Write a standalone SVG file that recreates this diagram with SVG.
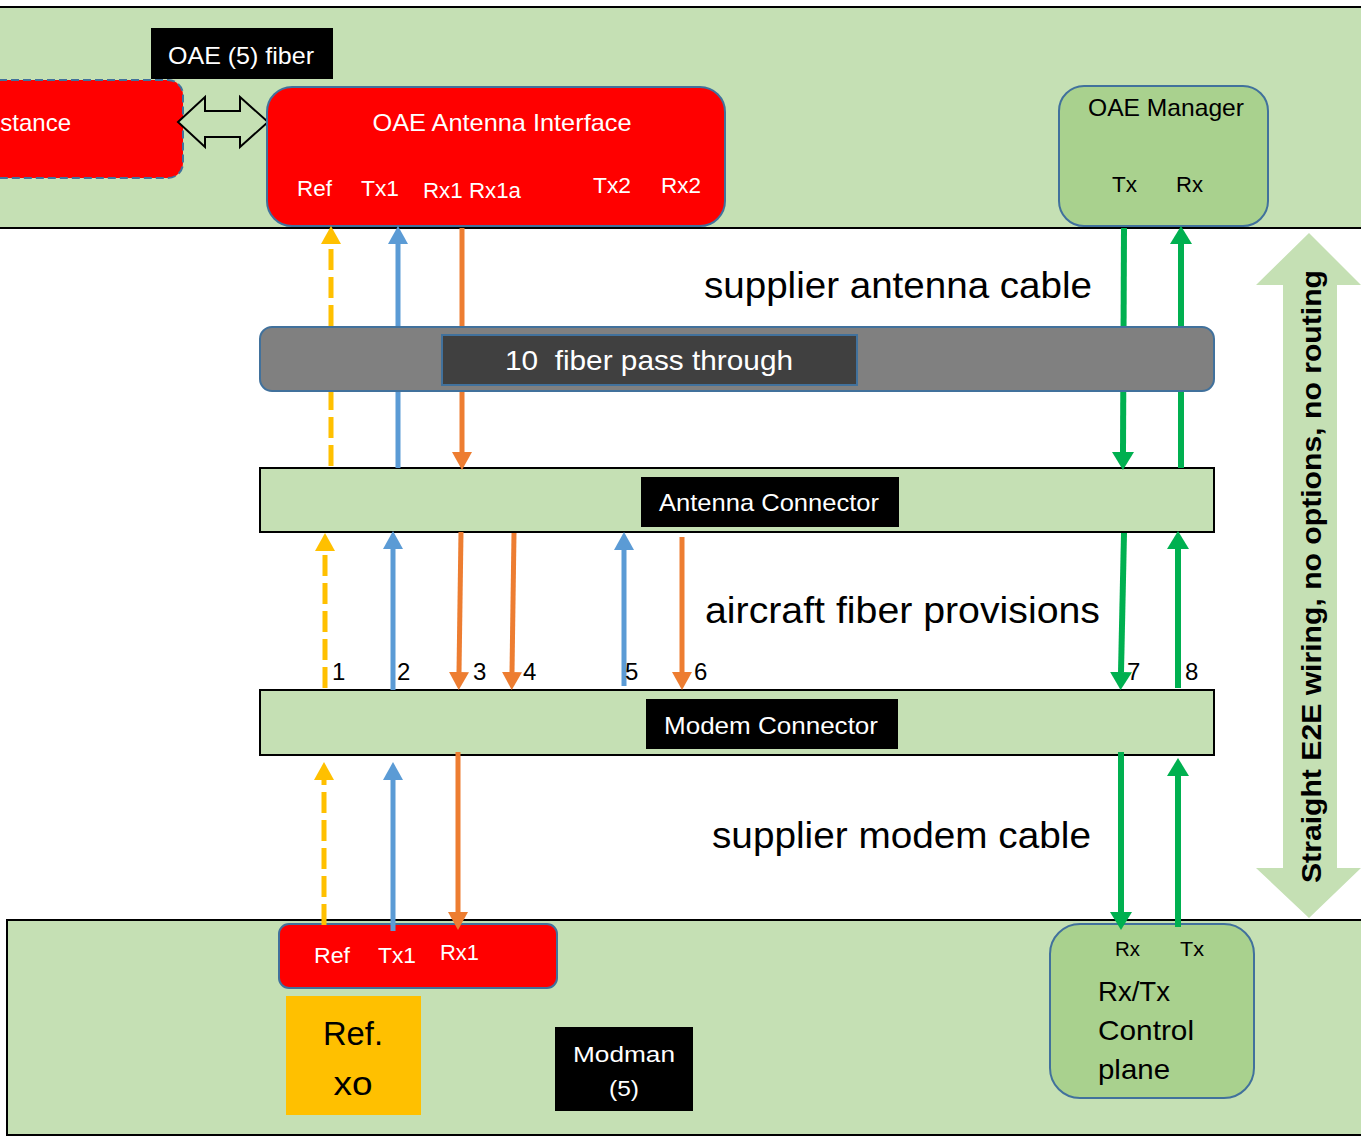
<svg xmlns="http://www.w3.org/2000/svg" width="1361" height="1136" viewBox="0 0 1361 1136">
<style>
text{font-family:"Liberation Sans","DejaVu Sans",sans-serif}
.w{fill:#fff}
.k{fill:#000}
.band{fill:#C5E0B4;stroke:#000;stroke-width:2}
.red{fill:#FF0000;stroke:#41719C;stroke-width:2}
.gn{fill:#A9D18E;stroke:#41719C;stroke-width:2}
.c{fill:none;stroke-width:5}
.y{stroke:#FFC000;stroke-dasharray:21 7}
.b{stroke:#5B9BD5}
.o{stroke:#ED7D31}
.g{stroke:#00B050;stroke-width:6}
</style>
<defs>
<marker id="ay" markerUnits="userSpaceOnUse" markerWidth="18" markerHeight="20" refX="0" refY="10" orient="auto"><path d="M0,0L18,10L0,20z" fill="#FFC000"/></marker>
<marker id="ab" markerUnits="userSpaceOnUse" markerWidth="18" markerHeight="20" refX="0" refY="10" orient="auto"><path d="M0,0L18,10L0,20z" fill="#5B9BD5"/></marker>
<marker id="ao" markerUnits="userSpaceOnUse" markerWidth="18" markerHeight="20" refX="0" refY="10" orient="auto"><path d="M0,0L18,10L0,20z" fill="#ED7D31"/></marker>
<marker id="ag" markerUnits="userSpaceOnUse" markerWidth="18" markerHeight="22" refX="0" refY="11" orient="auto"><path d="M0,0L18,11L0,22z" fill="#00B050"/></marker>
</defs>
<rect width="1361" height="1136" fill="#fff"/>
<g id="top-band"><rect class="band" x="-5" y="7" width="1380" height="221"/></g>
<g id="bottom-band"><rect class="band" x="7" y="920" width="1370" height="215"/></g>

<g id="distance-node">
<rect x="-40" y="80" width="223" height="98" rx="15" fill="#FF0000" stroke="#41719C" stroke-width="2" stroke-dasharray="8 4"/>
<text class="w" x="71" y="131" font-size="24" text-anchor="end">stance</text>
</g>
<g id="oae-fiber-label">
<rect x="151" y="28" width="182" height="51" fill="#000"/>
<text class="w" x="168" y="64" font-size="24" textLength="146" lengthAdjust="spacingAndGlyphs">OAE (5) fiber</text>
</g>
<g id="fiber-double-arrow">
<polygon points="178,122 205,97 205,111 240,111 240,97 268,122 240,147 240,137 205,137 205,147" fill="#C5E0B4" stroke="#000" stroke-width="2"/>
</g>
<g id="oae-antenna-interface">
<rect class="red" x="267" y="87" width="458" height="139" rx="25"/>
<text class="w" x="502" y="131" font-size="24" text-anchor="middle" textLength="259" lengthAdjust="spacingAndGlyphs">OAE Antenna Interface</text>
<text class="w" x="297" y="196" font-size="22" textLength="35" lengthAdjust="spacingAndGlyphs">Ref</text>
<text class="w" x="361" y="196" font-size="22" textLength="38" lengthAdjust="spacingAndGlyphs">Tx1</text>
<text class="w" x="423" y="198" font-size="22" textLength="98" lengthAdjust="spacingAndGlyphs">Rx1 Rx1a</text>
<text class="w" x="593" y="193" font-size="22" textLength="38" lengthAdjust="spacingAndGlyphs">Tx2</text>
<text class="w" x="661" y="193" font-size="22" textLength="40" lengthAdjust="spacingAndGlyphs">Rx2</text>
</g>
<g id="oae-manager">
<rect class="gn" x="1059" y="86" width="209" height="140" rx="25"/>
<text class="k" x="1088" y="116" font-size="24" textLength="156" lengthAdjust="spacingAndGlyphs">OAE Manager</text>
<text class="k" x="1112" y="192" font-size="22" textLength="25" lengthAdjust="spacingAndGlyphs">Tx</text>
<text class="k" x="1176" y="192" font-size="22" textLength="27" lengthAdjust="spacingAndGlyphs">Rx</text>
</g>

<g id="modem-red">
<rect class="red" x="279" y="924" width="278" height="64" rx="10"/>
<text class="w" x="314" y="963" font-size="22" textLength="36" lengthAdjust="spacingAndGlyphs">Ref</text>
<text class="w" x="378" y="963" font-size="22" textLength="38" lengthAdjust="spacingAndGlyphs">Tx1</text>
<text class="w" x="440" y="960" font-size="22" textLength="39" lengthAdjust="spacingAndGlyphs">Rx1</text>
</g>
<g id="ref-xo">
<rect x="286" y="996" width="135" height="119" fill="#FFC000"/>
<text class="k" x="353" y="1045" font-size="34" text-anchor="middle" textLength="60" lengthAdjust="spacingAndGlyphs">Ref.</text>
<text class="k" x="353" y="1095" font-size="34" text-anchor="middle" textLength="39" lengthAdjust="spacingAndGlyphs">xo</text>
</g>
<g id="modman">
<rect x="555" y="1027" width="138" height="84" fill="#000"/>
<text class="w" x="624" y="1062" font-size="22" text-anchor="middle" textLength="102" lengthAdjust="spacingAndGlyphs">Modman</text>
<text class="w" x="624" y="1096" font-size="22" text-anchor="middle" textLength="30" lengthAdjust="spacingAndGlyphs">(5)</text>
</g>
<g id="control-plane">
<rect class="gn" x="1050" y="924" width="204" height="174" rx="30"/>
<text class="k" x="1115" y="956" font-size="20" textLength="25" lengthAdjust="spacingAndGlyphs">Rx</text>
<text class="k" x="1180" y="956" font-size="20" textLength="24" lengthAdjust="spacingAndGlyphs">Tx</text>
<text class="k" x="1098" y="1001" font-size="28" textLength="72" lengthAdjust="spacingAndGlyphs">Rx/Tx</text>
<text class="k" x="1098" y="1040" font-size="28" textLength="96" lengthAdjust="spacingAndGlyphs">Control</text>
<text class="k" x="1098" y="1079" font-size="28" textLength="72" lengthAdjust="spacingAndGlyphs">plane</text>
</g>

<g id="antenna-connector">
<rect class="band" x="260" y="468" width="954" height="64"/>
<rect x="641" y="477" width="258" height="50" fill="#000"/>
<text class="w" x="769" y="511" font-size="24" text-anchor="middle" textLength="220" lengthAdjust="spacingAndGlyphs">Antenna Connector</text>
</g>
<g id="modem-connector">
<rect class="band" x="260" y="690" width="954" height="65"/>
<rect x="646" y="699" width="252" height="50" fill="#000"/>
<text class="w" x="771" y="734" font-size="24" text-anchor="middle" textLength="214" lengthAdjust="spacingAndGlyphs">Modem Connector</text>
</g>

<g id="connectors">
<path class="c y" d="M331,466L331,244" marker-end="url(#ay)"/>
<path class="c b" d="M398,468L398,244" marker-end="url(#ab)"/>
<path class="c o" d="M462,228L462,452" marker-end="url(#ao)"/>
<path class="c g" d="M1124,228L1123,452" marker-end="url(#ag)"/>
<path class="c g" d="M1181,468L1181,244" marker-end="url(#ag)"/>

<path class="c y" d="M325,688L325,551" marker-end="url(#ay)"/>
<path class="c b" d="M393,690L393,549" marker-end="url(#ab)"/>
<path class="c o" d="M461,532L459,672" marker-end="url(#ao)"/>
<path class="c o" d="M514,533L512,672" marker-end="url(#ao)"/>
<path class="c b" d="M624,686L624,550" marker-end="url(#ab)"/>
<path class="c o" d="M682,537L682,672" marker-end="url(#ao)"/>
<path class="c g" d="M1124,533L1121,672" marker-end="url(#ag)"/>
<path class="c g" d="M1178,688L1178,549" marker-end="url(#ag)"/>

<path class="c y" d="M324,925L324,780" marker-end="url(#ay)"/>
<path class="c b" d="M393,931L393,780" marker-end="url(#ab)"/>
<path class="c o" d="M458,752L458,912" marker-end="url(#ao)"/>
<path class="c g" d="M1121,752L1121,912" marker-end="url(#ag)"/>
<path class="c g" d="M1178,927L1178,776" marker-end="url(#ag)"/>
</g>

<g id="fiber-labels" font-size="24">
<text class="k" x="332" y="680">1</text>
<text class="k" x="397" y="680">2</text>
<text class="k" x="473" y="680">3</text>
<text class="k" x="523" y="680">4</text>
<text class="k" x="625" y="680">5</text>
<text class="k" x="694" y="680">6</text>
<text class="k" x="1127" y="680">7</text>
<text class="k" x="1185" y="680">8</text>
</g>

<g id="pass-through">
<rect x="260" y="327" width="954" height="64" rx="12" fill="#808080" stroke="#41719C" stroke-width="2"/>
<rect x="442" y="335" width="415" height="50" fill="#404040" stroke="#41719C" stroke-width="2"/>
<text class="w" x="505" y="370" font-size="28" textLength="288" lengthAdjust="spacingAndGlyphs" xml:space="preserve">10  fiber pass through</text>
</g>

<g id="section-labels" font-size="36">
<text class="k" x="704" y="298" textLength="388" lengthAdjust="spacingAndGlyphs">supplier antenna cable</text>
<text class="k" x="705" y="623" textLength="395" lengthAdjust="spacingAndGlyphs">aircraft fiber provisions</text>
<text class="k" x="712" y="848" textLength="379" lengthAdjust="spacingAndGlyphs">supplier modem cable</text>
</g>

<g id="e2e-arrow">
<polygon points="1309,233 1361,285 1337,285 1337,868 1361,868 1309,918 1256,868 1283,868 1283,285 1256,285" fill="#C5E0B4"/>
<text class="k" transform="translate(1321,883) rotate(-90)" font-size="28" font-weight="bold" textLength="613" lengthAdjust="spacingAndGlyphs">Straight E2E wiring, no options, no routing</text>
</g>
</svg>
